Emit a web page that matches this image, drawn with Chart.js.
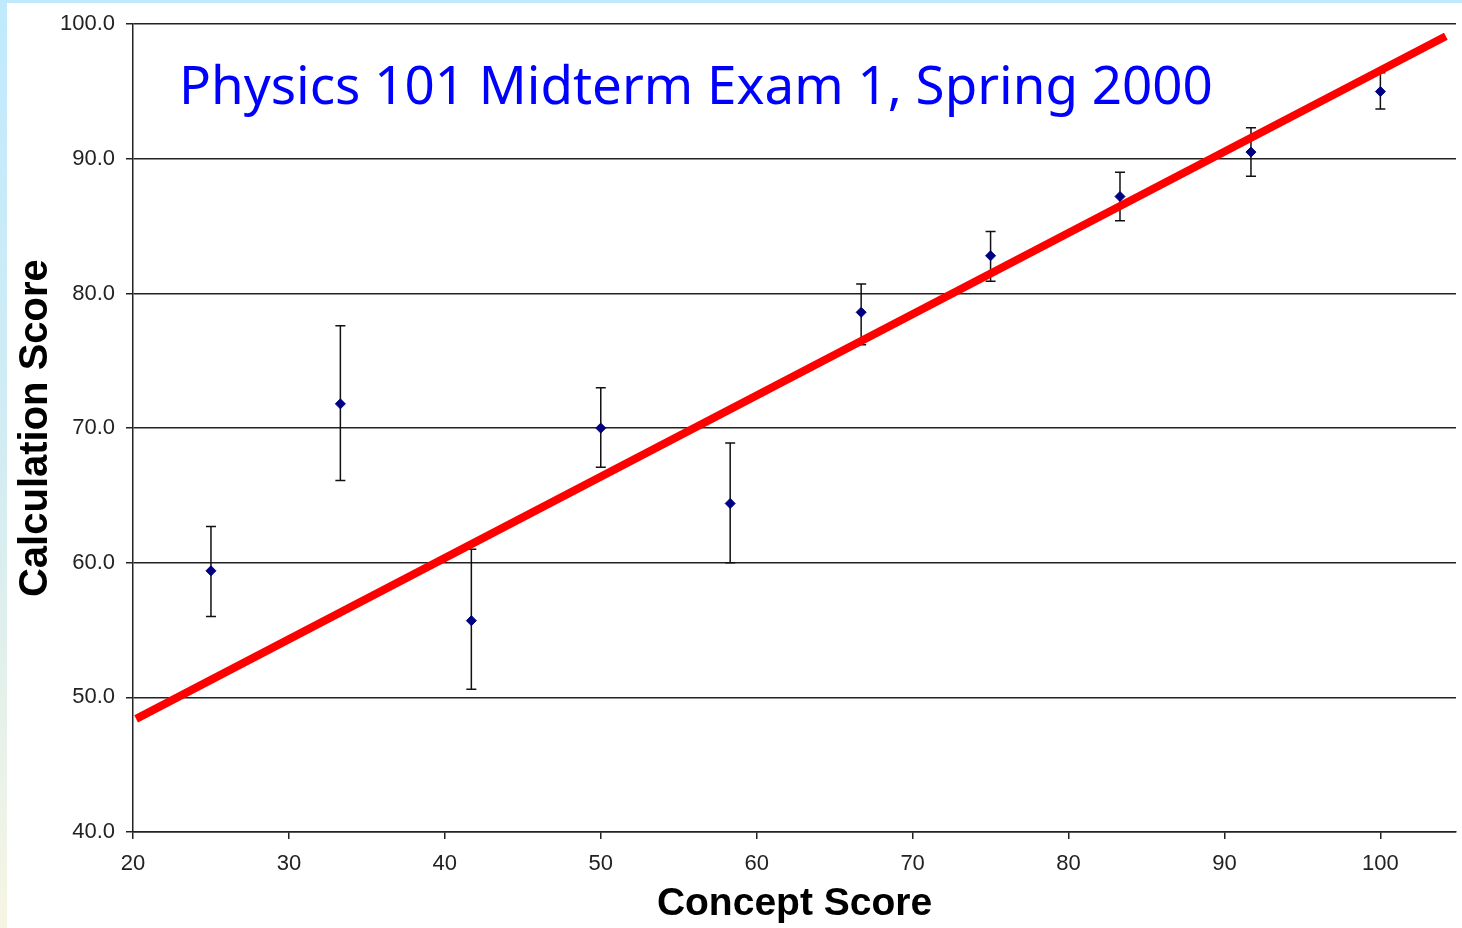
<!DOCTYPE html>
<html>
<head>
<meta charset="utf-8">
<script src="https://cdn.jsdelivr.net/npm/chart.js@4.4.1/dist/chart.umd.min.js"></script>
<style>
   html, body { margin: 0; padding: 0; width: 1462px; height: 928px; overflow: hidden; background: #ffffff; }
   #edgeTop { position: absolute; left: 0; top: 0; width: 1462px; height: 3px; background: #bfeafd; }
   #edgeLeft { position: absolute; left: 0; top: 0; width: 7px; height: 928px;
      background: linear-gradient(to bottom, #bfeafd 0%, #d3ecf2 50%, #f6f5e3 100%); }
   #wrap { position: absolute; left: 0; top: 0; width: 1462px; height: 928px; }
</style>
</head>
<body>
<div id="edgeTop"></div>
<div id="edgeLeft"></div>
<div id="wrap"><canvas id="examChart"></canvas></div>
<script>
// concept score groups and the mean calculation score of each group
const conceptScore = [25, 33.3, 41.7, 50, 58.3, 66.7, 75, 83.3, 91.7, 100];
const calcScore = [59.4, 71.8, 55.7, 70.0, 64.4, 78.6, 82.8, 87.2, 90.5, 95.0];
const errorTop = [62.7, 77.6, 61.0, 73.0, 68.9, 80.7, 84.6, 89.0, 92.3, 96.4];
const errorBottom = [56.0, 66.1, 50.6, 67.1, 60.0, 76.2, 80.9, 85.4, 88.7, 93.7];

// fitted straight line, read at its two ends
const fitX = [20.2, 104.2];
const fitY = [48.4, 99.1];

const yTicks = [40, 50, 60, 70, 80, 90, 100];
const titleText = "Physics 101 Midterm Exam 1, Spring 2000";

const points = conceptScore.map((x, i) => ({ x: x, y: calcScore[i] }));
const fitLine = fitX.map((x, i) => ({ x: x, y: fitY[i] }));

const errorBars = {
   id: "errorBars",
   beforeDatasetsDraw(chart) {
      const ctx = chart.ctx;
      const xs = chart.scales.x;
      const ys = chart.scales.y;
      ctx.save();
      ctx.strokeStyle = "#111111";
      ctx.lineWidth = 1.5;
      conceptScore.forEach((x, i) => {
         const px = xs.getPixelForValue(x);
         const top = ys.getPixelForValue(errorTop[i]);
         const bottom = ys.getPixelForValue(errorBottom[i]);
         ctx.beginPath();
         ctx.moveTo(px, top);
         ctx.lineTo(px, bottom);
         ctx.moveTo(px - 5, top);
         ctx.lineTo(px + 5, top);
         ctx.moveTo(px - 5, bottom);
         ctx.lineTo(px + 5, bottom);
         ctx.stroke();
      });
      ctx.restore();
   },
};

const innerTitle = {
   id: "innerTitle",
   afterDraw(chart) {
      const ctx = chart.ctx;
      const family = '"Comic Sans MS", "Noto Sans", sans-serif';
      ctx.save();
      ctx.font = "100px " + family;
      const size = (100 * 1034) / ctx.measureText(titleText).width;
      ctx.font = size + "px " + family;
      ctx.fillStyle = "#0000ff";
      ctx.textBaseline = "alphabetic";
      ctx.fillText(titleText, chart.chartArea.left + 46, 104);
      ctx.restore();
   },
};

const tickFont = { family: "'Liberation Sans', Arial, sans-serif", size: 22 };

new Chart(document.getElementById("examChart"), {
   type: "scatter",
   data: {
      datasets: [
         {
            type: "line",
            label: "Fit",
            data: fitLine,
            borderColor: "#ff0000",
            borderWidth: 8,
            borderCapStyle: "butt",
            pointRadius: 0,
            fill: false,
            order: 0,
         },
         {
            label: "Calculation Score",
            data: points,
            pointStyle: "rectRot",
            pointRadius: 5,
            backgroundColor: "#000080",
            borderColor: "#000080",
            borderWidth: 1,
            order: 1,
         },
      ],
   },
   options: {
      responsive: true,
      maintainAspectRatio: false,
      animation: false,
      layout: { padding: { top: 24, right: 5, left: 0, bottom: 0 } },
      plugins: {
         legend: { display: false },
         tooltip: { enabled: false },
      },
      scales: {
         x: {
            type: "linear",
            min: 20,
            max: 104.85,
            afterFit: (scale) => { scale.height = 96; },
            ticks: { stepSize: 10, includeBounds: false, color: "#222222", font: tickFont, padding: 12 },
            grid: { drawOnChartArea: false, drawTicks: true, tickLength: 7, color: "#222222", lineWidth: 1.5 },
            border: { color: "#222222", width: 1.5 },
            title: { display: true, text: "Concept Score", color: "#000000", font: { family: "'Liberation Sans', Arial, sans-serif", size: 39, weight: "bold" }, padding: { top: 0, bottom: 0 } },
         },
         y: {
            min: 40,
            max: 100,
            afterFit: (scale) => { scale.width = 133; },
            afterBuildTicks: (scale) => { scale.ticks = yTicks.map((v) => ({ value: v })); },
            ticks: { color: "#222222", font: tickFont, padding: 11, callback: (v) => Number(v).toFixed(1) },
            grid: { drawTicks: true, tickLength: 7, color: "#222222", lineWidth: 1.5 },
            border: { color: "#222222", width: 1.5 },
            title: { display: true, text: "Calculation Score", color: "#000000", font: { family: "'Liberation Sans', Arial, sans-serif", size: 40, weight: "bold" }, padding: { top: 12, bottom: 0 } },
         },
      },
   },
   plugins: [errorBars, innerTitle],
});
</script>
</body>
</html>
